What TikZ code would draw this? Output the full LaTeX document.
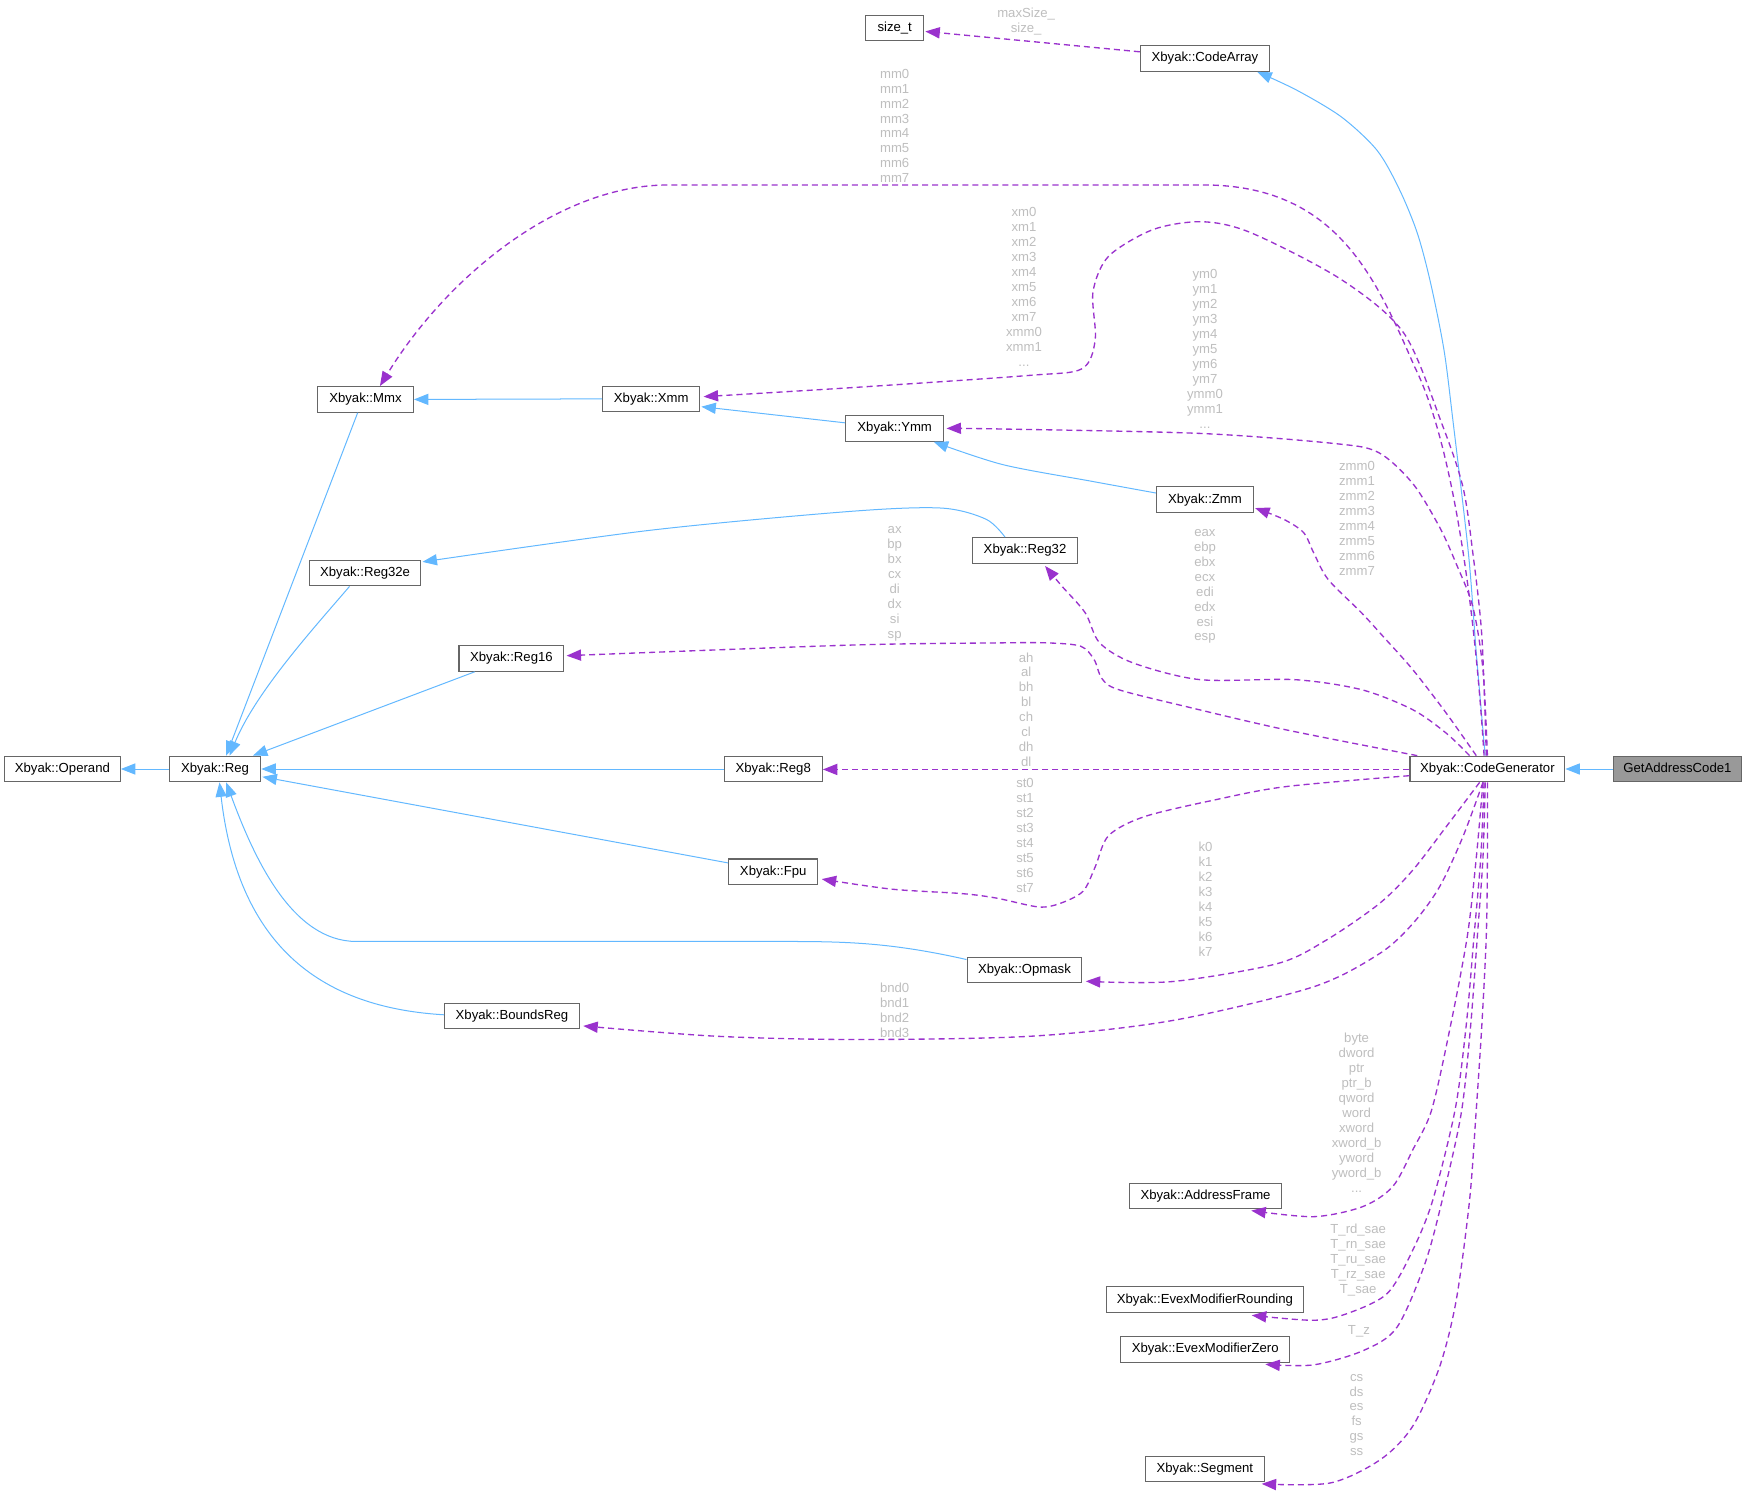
\documentclass[tikz,border=0pt]{standalone}
\usepackage{fontspec}
\setmainfont{Liberation Sans}
\usetikzlibrary{arrows.meta,calc}
\definecolor{edgeblue}{HTML}{63B8FF}
\definecolor{edgepurple}{HTML}{9A32CD}
\definecolor{nodeborder}{HTML}{666666}
\definecolor{nodegray}{HTML}{999999}
\definecolor{lblgray}{HTML}{BEBEBE}
\tikzset{
  box/.style={draw=nodeborder, line width=0.5pt, fill=white, minimum height=11.5pt, inner sep=0pt, text height=4.3pt, text depth=1.2pt, font=\fontsize{5.9}{6.72}\selectfont},
  inh/.style={draw=edgeblue, line width=0.45pt, -{Triangle[length=6.5pt,width=5pt]}},
  use/.style={draw=edgepurple, line width=0.6pt, dash pattern=on 2.7pt off 1.8pt, -{Triangle[length=6.5pt,width=5pt]}},
  lbl/.style={text=lblgray, align=center, inner sep=0pt, font=\fontsize{5.9}{6.72}\selectfont},
}
\begin{document}
\begin{tikzpicture}[x=0.5pt,y=-0.5pt]
\useasboundingbox (0,0) rectangle (1568,1339);
% nodes
\node[box, minimum width=26pt] (sizet) at (803,25.2) {size\_t};
\node[box, minimum width=58pt] (CodeArray) at (1081.5,52.5) {Xbyak::CodeArray};
\node[box, minimum width=43pt] (Mmx) at (328,358.5) {Xbyak::Mmx};
\node[box, minimum width=43.5pt] (Xmm) at (584.5,358) {Xbyak::Xmm};
\node[box, minimum width=44pt] (Ymm) at (803,384.5) {Xbyak::Ymm};
\node[box, minimum width=43.5pt] (Zmm) at (1081.5,448.5) {Xbyak::Zmm};
\node[box, minimum width=47pt] (Reg32) at (920,494) {Xbyak::Reg32};
\node[box, minimum width=50pt] (Reg32e) at (327.7,514.3) {Xbyak::Reg32e};
\node[box, minimum width=47pt] (Reg16) at (459,591) {Xbyak::Reg16};
\node[box, minimum width=52pt] (Operand) at (56,690.2) {Xbyak::Operand};
\node[box, minimum width=41pt] (Reg) at (193,690.2) {Xbyak::Reg};
\node[box, minimum width=44pt] (Reg8) at (694,690.2) {Xbyak::Reg8};
\node[box, minimum width=69.5pt] (CG) at (1335,690.2) {Xbyak::CodeGenerator};
\node[box, minimum width=57.5pt, fill=nodegray] (GAC) at (1505.5,690.2) {GetAddressCode1};
\node[box, minimum width=40pt] (Fpu) at (694,782.5) {Xbyak::Fpu};
\node[box, minimum width=51.5pt] (Opmask) at (919.5,870.7) {Xbyak::Opmask};
\node[box, minimum width=60.5pt] (BoundsReg) at (459.5,911.8) {Xbyak::BoundsReg};
\node[box, minimum width=68.5pt] (AddressFrame) at (1082,1073.5) {Xbyak::AddressFrame};
\node[box, minimum width=88.5pt] (EMR) at (1081.5,1166.5) {Xbyak::EvexModifierRounding};
\node[box, minimum width=76pt] (EMZ) at (1081.7,1211) {Xbyak::EvexModifierZero};
\node[box, minimum width=53.5pt] (Segment) at (1081.4,1318.5) {Xbyak::Segment};

% inheritance edges (blue)
\draw[inh] plot[smooth] coordinates {($(CG.north)+(-2,0)$) (1325,586) (1318,497) (1304,377) (1296,314) (1284,254) (1272,209) (1256,170) (1236,135) (1204,105) (1164,81) ($(CodeArray.south)+(47,0)$)};
\draw[inh] (Xmm.west) -- (Mmx.east);
\draw[inh] ($(Ymm.west)+(0,-5)$) -- ($(Xmm.east)+(1,7)$);
\draw[inh] plot[smooth] coordinates {($(Zmm.west)+(0,-6)$) (980,432) (900,417) ($(Ymm.south)+(35,0)$)};
\draw[inh] plot[smooth] coordinates {($(Reg32.north)+(-18,0)$) (885,466) (845,456) (763,459) (583,476) ($(Reg32e.east)+(1,-10)$)};
\draw[inh] ($(Mmx.south)+(-7,0)$) -- ($(Reg.north)+(10,0)$);
\draw[inh] ($(Reg32e.south)+(-14,0)$) .. controls (285,560) and (230,620) .. ($(Reg.north)+(13,0)$);
\draw[inh] ($(Reg16.south)+(-33,0)$) -- ($(Reg.north)+(34,0)$);
\draw[inh] (Reg8.west) -- (Reg.east);
\draw[inh] (Reg.west) -- (Operand.east);
\draw[inh] ($(Fpu.west)+(0,-8)$) -- ($(Reg.east)+(1,7)$);
\draw[inh] ($(Opmask.west)+(0,-9.5)$) .. controls (800,846) and (760,845) .. (705,845) -- (320,845) .. controls (262,845) and (228,770) .. ($(Reg.south)+(10,0)$);
\draw[inh] ($(BoundsReg.west)+(0,-1)$) .. controls (300,905) and (215,860) .. ($(Reg.south)+(4,0)$);
\draw[inh] (GAC.west) -- (CG.east);

% usage edges (purple)
\draw[use] ($(CodeArray.west)+(0,-6)$) -- ($(sizet.east)+(1,3)$);
\draw[use] ($(CG.north)+(-3,0)$) .. controls (1322,520) and (1300,390) .. (1270,330) .. controls (1235,250) and (1200,166) .. (1080,166) -- (600,166) .. controls (500,166) and (400,250) .. ($(Mmx.north)+(13,0)$);
\draw[use] plot[smooth] coordinates {($(CG.north)+(-1,0)$) (1330,571) (1322,497) (1313,437) (1294,380) (1260,299) (1204,251) (1123,209) (1079,199) (1035,206) (995,230) (981,262) (983,305) (971,331) (923,337) (763,348) ($(Xmm.east)+(3,-2)$)};
\draw[use] plot[smooth] coordinates {(CG.north) (1331,601) (1322,545) (1307,506) (1292,473) (1268,434) (1237,406) (1197,398) (1077,389) (897,385) ($(Ymm.east)+(2,0)$)};
\draw[use] plot[smooth] coordinates {($(CG.north)+(-10,0)$) (1298,640) (1268,601) (1243,573) (1222,550) (1192,520) (1179,496) (1170,478) (1152,466) ($(Zmm.east)+(1,7.5)$)};
\draw[use] plot[smooth] coordinates {($(CG.north)+(-16,0)$) (1298,658) (1268,637) (1222,619) (1162,610) (1077,610) (1017,595) (987,577) (974,550) (953,526) ($(Reg32.south)+(18,2)$)};
\draw[use] plot[smooth] coordinates {($(CG.north west)+(7,0)$) (1154,655) (1068,635) (1004,619) (989,609) (982,592) (970,580) (940,577) (897,577) (763,579) ($(Reg16.east)+(2,-2.5)$)};
\draw[use] ($(CG.west)+(0,0.4)$) -- ($(Reg8.east)+(0,0.4)$);
\draw[use] plot[smooth] coordinates {($(CG.west)+(0,6)$) (1154,706) (1090,718) (1027,733) (995,750) (983,778) (972,800) (951,811) (932,814) (894,806) (863,802) (800,798) ($(Fpu.east)+(3,6.5)$)};
\draw[use] plot[smooth] coordinates {($(CG.south)+(-7,0)$) (1298,742) (1268,781) (1238,811) (1190,844) (1146,865) (1052,881) ($(Opmask.east)+(3,10)$)};
\draw[use] plot[smooth] coordinates {($(CG.south)+(-4,0)$) (1313,751) (1292,796) (1268,829) (1238,856) (1178,886) (1052,916) (926,930) (768,933) (642,930) ($(BoundsReg.east)+(3,9)$)};
\draw[use] plot[smooth] coordinates {($(CG.south)+(-4,0)$) (1325,770) (1317,840) (1302,920) (1285,996) (1268,1032) (1250,1065) (1223,1083) (1179,1092) ($(AddressFrame.south)+(41,1)$)};
\draw[use] plot[smooth] coordinates {($(CG.south)+(-3,0)$) (1329,770) (1323,840) (1316,920) (1306,996) (1286,1077) (1268,1122) (1245,1161) (1209,1179) (1179,1185) ($(EMR.south)+(42,2)$)};
\draw[use] plot[smooth] coordinates {($(CG.south)+(-2,0)$) (1331,770) (1326,840) (1320,920) (1312,996) (1298,1062) (1280,1131) (1254,1191) (1224,1212) (1179,1225) ($(EMZ.south)+(54,1.5)$)};
\draw[use] plot[smooth] coordinates {(CG.south) (1335,770) (1334,840) (1330,920) (1325,996) (1319,1077) (1307,1167) (1292,1227) (1268,1280) (1239,1310) (1194,1331) ($(Segment.south)+(51,1.3)$)};

% edge labels
\node[lbl] (lsize) at (921,19.3) {maxSize\_\\size\_};
\node[lbl] (lmm) at (803,113) {mm0\\mm1\\mm2\\mm3\\mm4\\mm5\\mm6\\mm7};
\node[lbl] (lxm) at (919,257.5) {xm0\\xm1\\xm2\\xm3\\xm4\\xm5\\xm6\\xm7\\xmm0\\xmm1\\...};
\node[lbl] (lym) at (1081.5,313) {ym0\\ym1\\ym2\\ym3\\ym4\\ym5\\ym6\\ym7\\ymm0\\ymm1\\...};
\node[lbl] (lzm) at (1218,465) {zmm0\\zmm1\\zmm2\\zmm3\\zmm4\\zmm5\\zmm6\\zmm7};
\node[lbl] (l32) at (1081.5,526.3) {eax\\ebp\\ebx\\ecx\\edi\\edx\\esi\\esp};
\node[lbl] (l16) at (803,524) {ax\\bp\\bx\\cx\\di\\dx\\si\\sp};
\node[lbl] (l8) at (921,637) {ah\\al\\bh\\bl\\ch\\cl\\dh\\dl};
\node[lbl] (lst) at (920,749.7) {st0\\st1\\st2\\st3\\st4\\st5\\st6\\st7};
\node[lbl] (lk) at (1082,807) {k0\\k1\\k2\\k3\\k4\\k5\\k6\\k7};
\node[lbl] (lbnd) at (803,906.6) {bnd0\\bnd1\\bnd2\\bnd3};
\node[lbl] (laddr) at (1217.6,998.5) {byte\\dword\\ptr\\ptr\_b\\qword\\word\\xword\\xword\_b\\yword\\yword\_b\\...};
\node[lbl] (lrnd) at (1219,1130.7) {T\_rd\_sae\\T\_rn\_sae\\T\_ru\_sae\\T\_rz\_sae\\T\_sae};
\node[lbl] (lz) at (1219.7,1195) {T\_z};
\node[lbl] (lseg) at (1217.6,1270) {cs\\ds\\es\\fs\\gs\\ss};
\end{tikzpicture}
\end{document}
